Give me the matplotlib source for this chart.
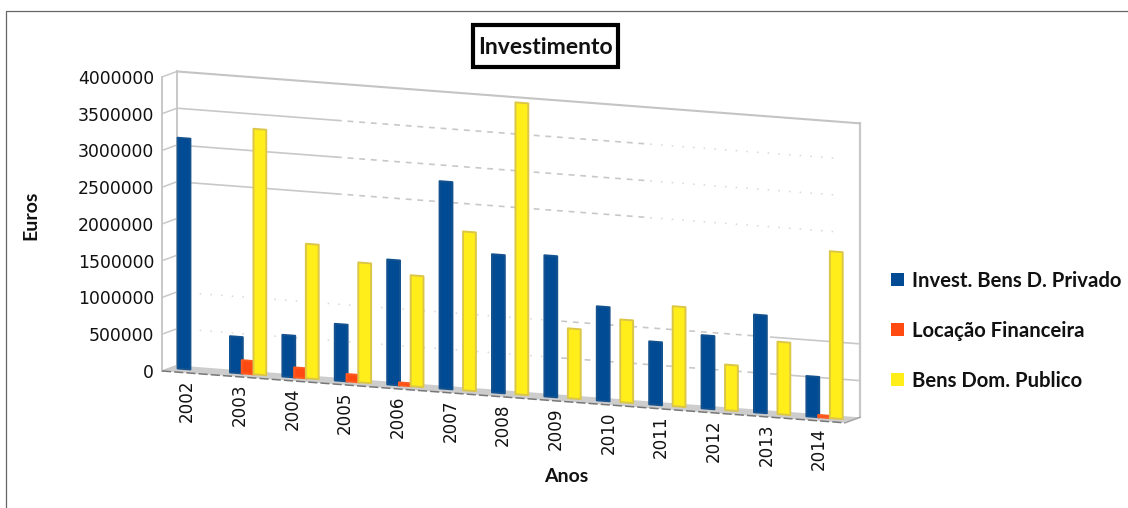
import matplotlib
matplotlib.use("Agg")
import matplotlib.pyplot as plt
from matplotlib.transforms import Affine2D
from matplotlib.patches import Polygon, Rectangle

years = [2002, 2003, 2004, 2005, 2006, 2007, 2008, 2009, 2010, 2011, 2012, 2013, 2014]
invest_privado = [3140000, 494000, 567000, 771000, 1700000, 2820000, 1880000, 1920000, 1280000, 857000, 996000, 1330000, 548000]
locacao = [0, 180000, 136000, 100000, 40000, 0, 0, 0, 0, 0, 0, 0, 30000]
bens_publico = [0, 3340000, 1830000, 1630000, 1510000, 2160000, 3970000, 950000, 1125000, 1360000, 620000, 985000, 2270000]
y_ticks = [0, 500000, 1000000, 1500000, 2000000, 2500000, 3000000, 3500000, 4000000]
series_names = ["Invest. Bens D. Privado", "Locação Financeira", "Bens Dom. Publico"]
colors = ["#004b93", "#ff4a12", "#ffee1a"]
edges = ["#14528f", "#ff5a20", "#dcc648"]

LAT = "Lato"
NUM = "DejaVu Sans"

fig = plt.figure(figsize=(11.28, 5.08), dpi=100)
ax = fig.add_axes([0, 0, 1, 1])
ax.set_xlim(0, 1128)
ax.set_ylim(508, 0)
ax.axis("off")

# sheared chart plane: (category index, euros) -> canvas pixels
plane = Affine2D.from_values(52.4, 3.98, 0, -73.5e-6, 184, 369)
bar_tr = plane + ax.transData
back_tr = plane + Affine2D().translate(0, -3) + ax.transData
front_tr = plane + Affine2D().translate(-15, 2.5) + ax.transData
X0, X1 = -0.134, 12.9

# outer frame
ax.plot([5.5, 5.5, 1128], [508, 10.5, 10.5], color="#666666", lw=0.9, zorder=1)

# floor
fl = [(X0, 0), (X1, 0)]
pts = [back_tr.transform(fl[0]), back_tr.transform(fl[1]), front_tr.transform(fl[1]), front_tr.transform(fl[0])]
inv = ax.transData.inverted()
ax.add_patch(Polygon([inv.transform(p) for p in pts], closed=True, facecolor="#cdcdcd", edgecolor="none", zorder=2))
ax.plot([X0, X1], [0, 0], color="#777777", lw=1.1, ls=(0, (6, 2)), transform=front_tr, zorder=2.5)
a, b = inv.transform(back_tr.transform((X1, 0))), inv.transform(front_tr.transform((X1, 0)))
ax.plot([a[0], b[0]], [a[1], b[1]], color="#a5a5a5", lw=1.1, zorder=2.5)

# walls
wall = "#c8c8c8"
ytop = y_ticks[-1]
ax.plot([X0, X0], [0, ytop], color=wall, lw=1.4, transform=back_tr, zorder=2)
ax.plot([X1, X1], [0, ytop], color=wall, lw=1.6, transform=back_tr, zorder=2)
ax.plot([X0, X0], [0, ytop], color=wall, lw=1.4, transform=front_tr, zorder=2)

# grid lines fade along the wall, as in the reference
grid_x = [X0, 2.9, 8.9, 12.4, X1]
for v in y_ticks:
    p = inv.transform(back_tr.transform((X0, v)))
    q = inv.transform(front_tr.transform((X0, v)))
    ax.plot([q[0], p[0]], [q[1], p[1]], color=wall, lw=1.1, zorder=2)
    if v == 4000000:
        ax.plot([X0, X1], [v, v], color="#c4c4c4", lw=1.5, transform=back_tr, zorder=2)
    elif v >= 2500000:
        ax.plot(grid_x[:2], [v, v], color=wall, lw=1.2, transform=back_tr, zorder=2)
        ax.plot(grid_x[1:3], [v, v], color=wall, lw=1.2, ls=(0, (3.5, 3.5)), transform=back_tr, zorder=2)
        ax.plot(grid_x[2:4], [v, v], color="#d8d8d8", lw=1.1, ls=(0, (1, 6)), transform=back_tr, zorder=2)
    elif v in (500000, 1000000):
        ax.plot([0.3, 7.2], [v, v], color="#d8d8d8", lw=1.1, ls=(0, (1, 6)), transform=back_tr, zorder=2)
        ax.plot([7.2, 11.2], [v, v], color=wall, lw=1.2, ls=(0, (3.5, 3.5)), transform=back_tr, zorder=2)
        ax.plot([11.2, X1], [v, v], color=wall, lw=1.2, transform=back_tr, zorder=2)
    p = inv.transform(front_tr.transform((X0, v)))
    ax.text(154, p[1] + 2, str(v), ha="right", va="center", fontsize=12.4, family=NUM, color="#111111", zorder=6)

# bars
width = 0.245
offsets = [0.0, 0.224, 0.448]
for k, vals in enumerate([invest_privado, locacao, bens_publico]):
    xs = [i + offsets[k] for i, v in enumerate(vals) if v > 0]
    hs = [v for v in vals if v > 0]
    ax.bar(xs, hs, width=width, color=colors[k], edgecolor=edges[k], linewidth=1.4,
           joinstyle="round", transform=bar_tr, zorder=3 + k * 0.1)

# x tick labels
for i, y in enumerate(years):
    ax.text(187 + 52.67 * i, 380 + 4.0 * i, str(y), rotation=90, ha="center", va="top",
            fontsize=12.1, family=NUM, color="#111111", zorder=6)

# axis titles
ax.text(31, 215, "Euros", rotation=90, ha="center", va="center", fontsize=14, fontweight="bold", family=LAT, color="#111111")
ax.text(566, 477, "Anos", ha="center", va="center", fontsize=14, fontweight="bold", family=LAT, color="#111111")

# title box
ax.add_patch(Rectangle((472.5, 24.5), 145, 42, facecolor="white", edgecolor="black", lw=3, zorder=5))
ax.text(545, 47, "Investimento", ha="center", va="center", fontsize=16.6, fontweight="bold", family=LAT, color="#111111", zorder=6)

# legend
for name, col, yc in zip(series_names, colors, [280, 330, 380]):
    ax.add_patch(Rectangle((891, yc - 7), 13, 13, facecolor=col, edgecolor="none", zorder=5))
    ax.text(912, yc + 1, name, ha="left", va="center", fontsize=14.6, fontweight="bold", family=LAT, color="#111111", zorder=6)

fig.savefig("out.png", dpi=100)
